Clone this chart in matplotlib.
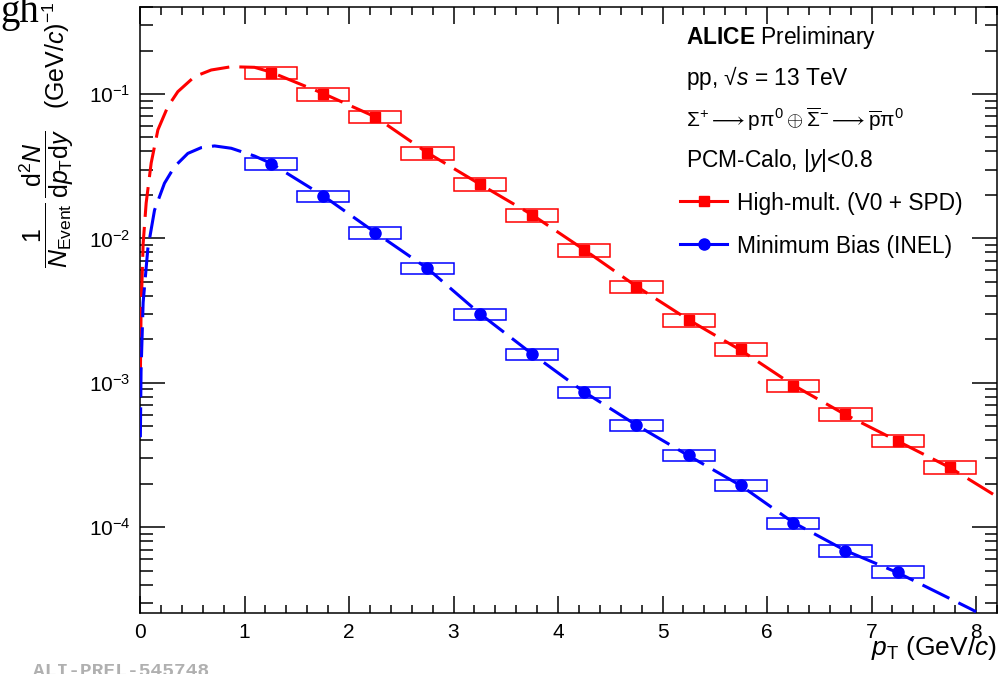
import numpy as np
import matplotlib
matplotlib.use("Agg")
import matplotlib.pyplot as plt
from matplotlib.ticker import MultipleLocator, LogLocator, NullFormatter
from matplotlib.lines import Line2D

plt.rcParams['font.family'] = ['Liberation Sans', 'DejaVu Sans']
plt.rcParams['mathtext.fontset'] = 'custom'
plt.rcParams['mathtext.rm'] = 'Liberation Sans'
plt.rcParams['mathtext.it'] = 'Liberation Sans:italic'
plt.rcParams['mathtext.bf'] = 'Liberation Sans:bold'
plt.rcParams['mathtext.sf'] = 'Liberation Sans'

# ---------------- data ----------------
pt_hm = [1.25, 1.75, 2.25, 2.75, 3.25, 3.75, 4.25, 4.75, 5.25, 5.75, 6.25, 6.75, 7.25, 7.75]
y_hm = [0.1404, 0.100, 0.0697, 0.0388, 0.0238, 0.01452, 0.00831, 0.00464,
        0.00272, 0.00171, 0.000955, 0.000605, 0.000397, 0.000260]
syst_hm = [0.10] * 14

pt_mb = [1.25, 1.75, 2.25, 2.75, 3.25, 3.75, 4.25, 4.75, 5.25, 5.75, 6.25, 6.75, 7.25]
y_mb = [0.0329, 0.01968, 0.01095, 0.00621, 0.00299, 0.00158, 0.000859, 0.000511,
        0.000316, 0.000195, 0.0001064, 6.87e-5, 4.92e-5]
syst_mb = [0.09] * 13

bin_width = 0.5

# fit curves
fit_pt_hm = [0.0035, 0.01, 0.03, 0.059, 0.107, 0.171, 0.266, 0.362, 0.522, 0.681, 0.873,
             1.096, 1.25, 1.75, 2.25, 2.75, 3.25, 3.75, 4.25, 4.75, 5.25, 5.75, 6.25,
             6.75, 7.25, 7.75, 8.2]
fit_y_hm = [0.00110, 0.0031, 0.0092, 0.0176, 0.0333, 0.0564, 0.0817, 0.1038, 0.132, 0.1466,
            0.1545, 0.153, 0.142, 0.101, 0.0695, 0.0392, 0.0238, 0.0146, 0.00835, 0.00466,
            0.00273, 0.00168, 0.000965, 0.000602, 0.000395, 0.000259, 0.000163]

fit_pt_mb = [0.0035, 0.01, 0.03, 0.075, 0.139, 0.234, 0.330, 0.458, 0.585, 0.713, 0.873,
             1.096, 1.25, 1.75, 2.25, 2.75, 3.25, 3.75, 4.25, 4.75, 5.25, 5.75, 6.25,
             6.75, 7.25, 7.94, 8.0]
fit_y_mb = [0.00042, 0.00120, 0.0036, 0.0085, 0.0157, 0.0241, 0.0314, 0.0388, 0.0425,
            0.0437, 0.0421, 0.0372, 0.0332, 0.0198, 0.0110, 0.00620, 0.00302, 0.00159,
            0.000865, 0.000510, 0.000313, 0.000194, 0.000108, 6.9e-5, 4.85e-5, 2.74e-5, 2.6e-5]

x_ticks = [0, 1, 2, 3, 4, 5, 6, 7, 8]

RED = '#ff0000'
BLUE = '#0000ff'

# ---------------- figure ----------------
W, H = 1002, 674
fig = plt.figure(figsize=(W / 100, H / 100), dpi=100)
L, R, T, B = 140, 997, 7, 613
ax = fig.add_axes([L / W, 1 - B / H, (R - L) / W, (B - T) / H])
ax.set_yscale('log')
ax.set_xlim(0, 8.2)
ax.set_ylim(2.55e-5, 0.4003)

# systematic boxes
for pts, ys, sy, col in [(pt_hm, y_hm, syst_hm, RED), (pt_mb, y_mb, syst_mb, BLUE)]:
    ys = np.asarray(ys)
    sy = np.asarray(sy)
    lo = ys * (1 - sy)
    hi = ys * (1 + sy)
    ax.bar(pts, hi - lo, bottom=lo, width=bin_width, fill=False,
           edgecolor=col, linewidth=1.1, zorder=3)

# fits
lw = 2.2
ax.plot(fit_pt_hm, fit_y_hm, color=RED, lw=lw, dashes=(9.8, 3.3), zorder=4,
        dash_capstyle='butt')
ax.plot(fit_pt_mb, fit_y_mb, color=BLUE, lw=lw, dashes=(9.8, 3.3), zorder=4,
        dash_capstyle='butt')

# points
ax.plot(pt_hm, y_hm, ls='none', marker='s', ms=7.5, color=RED, zorder=5)
ax.plot(pt_mb, y_mb, ls='none', marker='o', ms=8, color=BLUE, zorder=5)

# ticks
ax.set_xticks(x_ticks)
ax.xaxis.set_minor_locator(MultipleLocator(0.2))
ax.yaxis.set_major_locator(LogLocator(base=10, numticks=20))
ax.yaxis.set_minor_locator(LogLocator(base=10, subs=np.arange(2, 10), numticks=20))
ax.yaxis.set_minor_formatter(NullFormatter())
ax.tick_params(axis='both', which='both', direction='in', top=True, right=True,
               width=1.1, colors='black', labelsize=15)
ax.tick_params(axis='x', which='major', length=12, pad=7)
ax.tick_params(axis='x', which='minor', length=6)
ax.tick_params(axis='y', which='major', length=18, pad=7)
ax.tick_params(axis='y', which='minor', length=9)
for s in ax.spines.values():
    s.set_linewidth(1.1)

# axis labels
fig.text(997 / W, 1 - 655 / H, r'$p_{\mathrm{T}}$ (GeV/$c$)', ha='right', va='baseline',
         fontsize=19)
fig.text(47 / W, 1 - 268 / H,
         r'$\dfrac{1}{N_{\mathrm{Event}}}\,\dfrac{\mathrm{d}^{2}N}{\mathrm{d}p_{\mathrm{T}}\mathrm{d}y}$',
         rotation=90, ha='center', va='bottom', fontsize=18)
fig.text(56 / W, 1 - 2 / H, r'(GeV/$c$)$^{-1}$',
         rotation=90, ha='center', va='top', fontsize=18)

# annotation block
tx = 686 / W
fs = 16.4
fig.text(tx, 1 - 44 / H, r'$\mathbf{ALICE}$ Preliminary', fontsize=fs, va='baseline')
fig.text(tx, 1 - 85 / H, r'pp, √$s$ = 13 TeV', fontsize=fs, va='baseline')
fig.text(tx, 1 - 127 / H,
         r'$\mathrm{Σ}^{+}\longrightarrow\mathrm{pπ}^{0}\oplus\overline{\mathrm{Σ}}^{-}\longrightarrow\overline{\mathrm{p}}\mathrm{π}^{0}$',
         fontsize=15, va='baseline')
fig.text(tx, 1 - 167 / H, r'PCM-Calo, |$y$|<0.8', fontsize=fs, va='baseline')

# legend entries
for yc, col, mk, label in [(201, RED, 's', 'High-mult. (V0 + SPD)'),
                           (244, BLUE, 'o', 'Minimum Bias (INEL)')]:
    fig.add_artist(Line2D([680 / W, 727 / W], [1 - yc / H, 1 - yc / H], color=col, lw=2.2,
                          transform=fig.transFigure))
    fig.add_artist(Line2D([703.5 / W], [1 - yc / H], color=col, marker=mk,
                          ms=8 if mk == 'o' else 7.5, ls='none', transform=fig.transFigure))
    fig.text(737 / W, 1 - yc / H, label, fontsize=fs, va='center_baseline')

# stray texts in the image
fig.text(0 / W, 1 - 22 / H, 'gh', fontfamily='Liberation Serif', fontsize=28, va='baseline')
fig.text(33 / W, 1 - 676 / H, 'ALI-PREL-545748', fontfamily='Liberation Mono',
         fontsize=14, color='#b0b0b0', va='baseline', fontweight='bold')

fig.savefig('out.png', dpi=100)
